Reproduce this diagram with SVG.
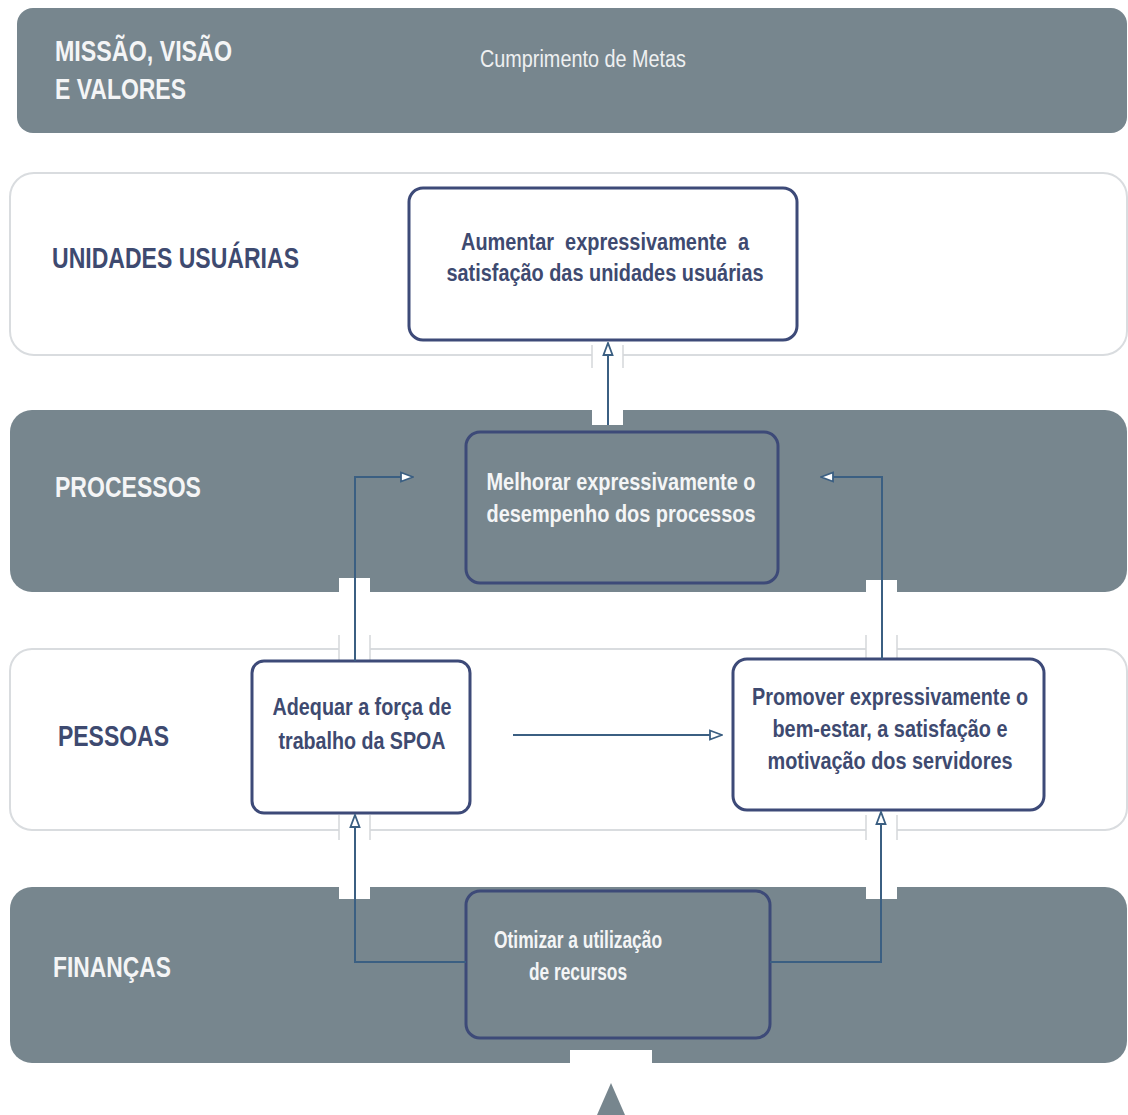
<svg xmlns="http://www.w3.org/2000/svg" width="1128" height="1115" viewBox="0 0 1128 1115">
<style>
.band-d{fill:#77868e;}
.band-l{fill:#ffffff;stroke:#d9dcdf;stroke-width:2;}
.node-l{fill:#ffffff;stroke:#3d4a78;stroke-width:3;}
.node-d{fill:#77868e;stroke:#3d4a78;stroke-width:3;}
.lbl{font-family:"Liberation Sans",Arial,sans-serif;font-weight:bold;font-size:29px;}
.txt{font-family:"Liberation Sans",Arial,sans-serif;font-weight:bold;font-size:23px;text-anchor:middle;}
.w{fill:#f4f5f6;}
.n{fill:#3e4a70;}
.conn{fill:none;stroke:#3b5f82;stroke-width:2;}
.notch{fill:#ffffff;}
.notchline{stroke:#d4d7da;stroke-width:1.5;}
</style>
<defs>
<marker id="arr" viewBox="0 0 14 12" refX="13" refY="6" markerWidth="14" markerHeight="12" markerUnits="userSpaceOnUse" orient="auto">
<path d="M1,1.5 L13,6 L1,10.5 Z" fill="#ffffff" stroke="#3b5f82" stroke-width="1.8"/>
</marker>
</defs>

<g id="band-missao">
<rect x="17" y="8" width="1110" height="125" rx="16" class="band-d"/>
<text class="lbl w" x="55" y="61" textLength="177" lengthAdjust="spacingAndGlyphs">MISSÃO, VISÃO</text>
<text class="lbl w" x="55" y="99" textLength="131" lengthAdjust="spacingAndGlyphs">E VALORES</text>
<text x="480" y="67" font-family="Liberation Sans, Arial, sans-serif" font-size="23" fill="#eef0f1" textLength="206" lengthAdjust="spacingAndGlyphs">Cumprimento de Metas</text>
</g>

<g id="band-unidades">
<rect x="10" y="173" width="1117" height="182" rx="24" class="band-l"/>
<text class="lbl n" x="52" y="268" textLength="247" lengthAdjust="spacingAndGlyphs">UNIDADES USUÁRIAS</text>
</g>

<g id="band-processos">
<rect x="10" y="410" width="1117" height="182" rx="22" class="band-d"/>
<text class="lbl w" x="55" y="497" textLength="146" lengthAdjust="spacingAndGlyphs">PROCESSOS</text>
</g>

<g id="band-pessoas">
<rect x="10" y="649" width="1117" height="181" rx="22" class="band-l"/>
<text class="lbl n" x="58" y="746" textLength="111" lengthAdjust="spacingAndGlyphs">PESSOAS</text>
</g>

<g id="band-financas">
<rect x="10" y="887" width="1117" height="176" rx="22" class="band-d"/>
<text class="lbl w" x="53" y="977" textLength="118" lengthAdjust="spacingAndGlyphs">FINANÇAS</text>
</g>

<g id="notches">
<rect x="592" y="345" width="31" height="80" class="notch"/>
<line x1="592" y1="345" x2="592" y2="368" class="notchline"/>
<line x1="623" y1="345" x2="623" y2="368" class="notchline"/>
<rect x="339" y="578" width="31" height="82" class="notch"/>
<line x1="339" y1="635" x2="339" y2="660" class="notchline"/>
<line x1="370" y1="635" x2="370" y2="660" class="notchline"/>
<rect x="866" y="580" width="31" height="80" class="notch"/>
<line x1="866" y1="635" x2="866" y2="660" class="notchline"/>
<line x1="897" y1="635" x2="897" y2="660" class="notchline"/>
<rect x="339" y="815" width="31" height="84" class="notch"/>
<line x1="339" y1="815" x2="339" y2="840" class="notchline"/>
<line x1="370" y1="815" x2="370" y2="840" class="notchline"/>
<rect x="866" y="815" width="31" height="84" class="notch"/>
<line x1="866" y1="815" x2="866" y2="840" class="notchline"/>
<line x1="897" y1="815" x2="897" y2="840" class="notchline"/>
<rect x="570" y="1050" width="82" height="25" class="notch"/>
</g>

<g id="node-aumentar">
<rect x="409" y="188" width="388" height="152" rx="14" class="node-l"/>
<text class="txt n" x="605" y="250" style="white-space:pre" textLength="288" lengthAdjust="spacingAndGlyphs">Aumentar  expressivamente  a</text>
<text class="txt n" x="605" y="281" textLength="317" lengthAdjust="spacingAndGlyphs">satisfação das unidades usuárias</text>
</g>

<g id="node-melhorar">
<rect x="466" y="432" width="312" height="151" rx="14" class="node-d"/>
<text class="txt w" x="621" y="490" textLength="269" lengthAdjust="spacingAndGlyphs">Melhorar expressivamente o</text>
<text class="txt w" x="621" y="522" textLength="269" lengthAdjust="spacingAndGlyphs">desempenho dos processos</text>
</g>

<g id="node-adequar">
<rect x="252" y="661" width="218" height="152" rx="12" class="node-l"/>
<text class="txt n" x="362" y="715" textLength="179" lengthAdjust="spacingAndGlyphs">Adequar a força de</text>
<text class="txt n" x="362" y="749" textLength="167" lengthAdjust="spacingAndGlyphs">trabalho da SPOA</text>
</g>

<g id="node-promover">
<rect x="733" y="659" width="311" height="151" rx="14" class="node-l"/>
<text class="txt n" x="890" y="705" textLength="276" lengthAdjust="spacingAndGlyphs">Promover expressivamente o</text>
<text class="txt n" x="890" y="737" textLength="235" lengthAdjust="spacingAndGlyphs">bem-estar, a satisfação e</text>
<text class="txt n" x="890" y="769" textLength="245" lengthAdjust="spacingAndGlyphs">motivação dos servidores</text>
</g>

<g id="node-otimizar">
<rect x="466" y="891" width="304" height="147" rx="14" class="node-d"/>
<text class="txt w" x="578" y="948" textLength="168" lengthAdjust="spacingAndGlyphs">Otimizar a utilização</text>
<text class="txt w" x="578" y="980" textLength="98" lengthAdjust="spacingAndGlyphs">de recursos</text>
</g>

<g id="connectors">
<line x1="608" y1="425" x2="608" y2="343" class="conn" marker-end="url(#arr)"/>
<polyline points="355,661 355,477 413,477" class="conn" marker-end="url(#arr)"/>
<polyline points="882,659 882,477 821,477" class="conn" marker-end="url(#arr)"/>
<line x1="513" y1="735" x2="722" y2="735" class="conn" marker-end="url(#arr)"/>
<polyline points="466,962 355,962 355,815" class="conn" marker-end="url(#arr)"/>
<polyline points="770,962 881,962 881,812" class="conn" marker-end="url(#arr)"/>
<polygon points="597,1115 625,1115 611,1083" fill="#77868e"/>
</g>
</svg>
